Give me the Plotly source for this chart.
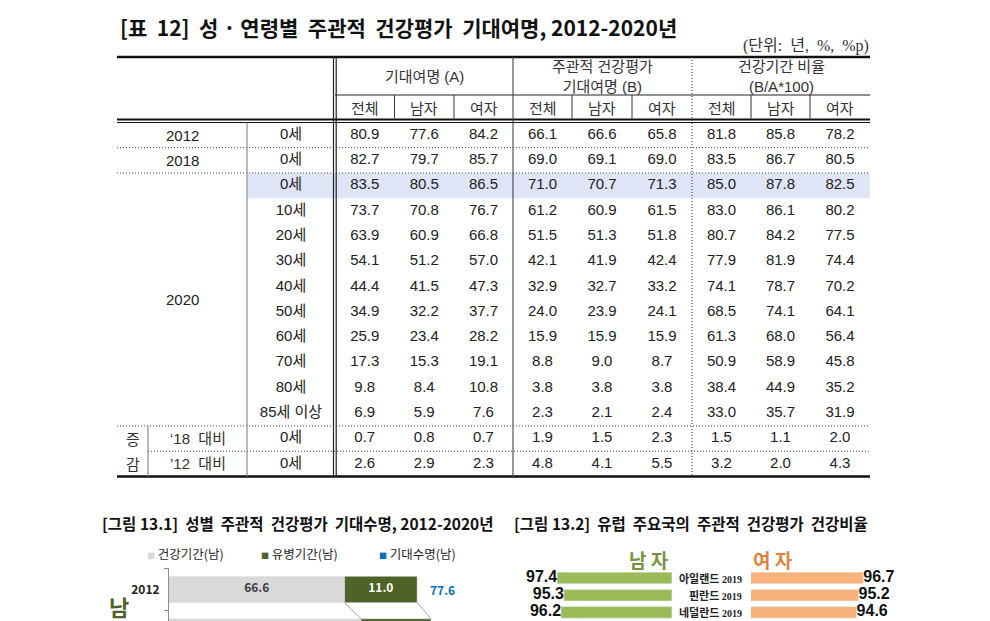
import plotly.graph_objects as go

# the page body keeps its 8px margin, so the figure is drawn 8px smaller and
# the canvas axes start at 8 to keep reference pixel positions
OFF = 8
W, H = 990 - OFF, 621 - OFF
KR = "Noto Sans CJK KR"
NUM = "Liberation Sans, Noto Sans CJK KR"

# ---- [표 12] data ----
year_labels = ["2012", "2018", "2020"]
age_labels = ["0세", "0세", "0세", "10세", "20세", "30세", "40세", "50세",
              "60세", "70세", "80세", "85세 이상", "0세", "0세"]
change_labels = ["‘18 대비", "’12 대비"]
group_labels = ["기대여명 (A)", "주관적 건강평가<br>기대여명 (B)", "건강기간 비율<br>(B/A*100)"]
sub_labels = ["전체", "남자", "여자"]

le_total = [80.9, 82.7, 83.5, 73.7, 63.9, 54.1, 44.4, 34.9, 25.9, 17.3, 9.8, 6.9, 0.7, 2.6]
le_male = [77.6, 79.7, 80.5, 70.8, 60.9, 51.2, 41.5, 32.2, 23.4, 15.3, 8.4, 5.9, 0.8, 2.9]
le_female = [84.2, 85.7, 86.5, 76.7, 66.8, 57.0, 47.3, 37.7, 28.2, 19.1, 10.8, 7.6, 0.7, 2.3]
hle_total = [66.1, 69.0, 71.0, 61.2, 51.5, 42.1, 32.9, 24.0, 15.9, 8.8, 3.8, 2.3, 1.9, 4.8]
hle_male = [66.6, 69.1, 70.7, 60.9, 51.3, 41.9, 32.7, 23.9, 15.9, 9.0, 3.8, 2.1, 1.5, 4.1]
hle_female = [65.8, 69.0, 71.3, 61.5, 51.8, 42.4, 33.2, 24.1, 15.9, 8.7, 3.8, 2.4, 2.3, 5.5]
ratio_total = [81.8, 83.5, 85.0, 83.0, 80.7, 77.9, 74.1, 68.5, 61.3, 50.9, 38.4, 33.0, 1.5, 3.2]
ratio_male = [85.8, 86.7, 87.8, 86.1, 84.2, 81.9, 78.7, 74.1, 68.0, 58.9, 44.9, 35.7, 1.1, 2.0]
ratio_female = [78.2, 80.5, 82.5, 80.2, 77.5, 74.4, 70.2, 64.1, 56.4, 45.8, 35.2, 31.9, 2.0, 4.3]

# ---- [그림 13.1] data (male) ----
f131_years = ["2012", "2018", "2020"]
f131_healthy = [66.6, 69.1, 70.7]
f131_sick = [11.0, 10.6, 9.8]
f131_total = [77.6, 79.7, 80.5]

# ---- [그림 13.2] data ----
f132_countries = ["아일랜드", "핀란드", "네덜란드"]
f132_years = ["2019", "2019", "2019"]
f132_male = [97.4, 95.3, 96.2]
f132_female = [96.7, 95.2, 94.6]

# ---- table grid (pixels) ----
col_edges = [117, 247, 335, 394.5, 454, 513, 572, 632, 692, 751, 810, 870]
row0_y, row_h = 135, 25.3
n_rows = len(age_labels)


def row_y(i):
    return row0_y + row_h * i


def fx(p):
    return (p - OFF) / W


def fy(p):
    return 1 - (p - OFF) / H


shapes = []


def seg(x0, y0, x1, y1, width=1.0, color="#333333", dash="solid"):
    shapes.append(dict(type="line", xref="x", yref="y", x0=x0, y0=y0, x1=x1, y1=y1,
                       line=dict(width=width, color=color, dash=dash)))


DOT = "1px,2px"
left, right = col_edges[0], col_edges[-1]
top_y, head_mid_y, body_top = 57, 95, 121
half = row_h / 2
bottom_y = row_y(n_rows - 1) + half

# highlight row (2020, 0세)
shapes.append(dict(type="rect", xref="x", yref="y", x0=col_edges[1] + 0.5, x1=right,
                   y0=row_y(2) - half, y1=row_y(2) + half,
                   fillcolor="#dfe4f6", line_width=0, layer="below"))

seg(left, top_y, right, top_y, 2.5, "#111111")
seg(col_edges[2], head_mid_y, right, head_mid_y, 1, "#222222")
seg(left, body_top - 1.5, right, body_top - 1.5, 2, "#111111")
seg(left, body_top + 1.5, right, body_top + 1.5, 1, "#111111")
seg(left, bottom_y, right, bottom_y, 2.5, "#111111")
for i in (0, 1, 11):
    seg(left, row_y(i) + half, right, row_y(i) + half, 1, "#444444", DOT)
seg(148, row_y(12) + half, right, row_y(12) + half, 1, "#444444", DOT)

# verticals
seg(col_edges[1], body_top + 1.5, col_edges[1], bottom_y, 1, "#777777")
seg(148, row_y(11) + half, 148, bottom_y, 1, "#777777")
seg(col_edges[2] - 1.5, top_y, col_edges[2] - 1.5, bottom_y, 1.2, "#222222")
seg(col_edges[2] + 1.2, top_y, col_edges[2] + 1.2, bottom_y, 1.2, "#222222")
seg(col_edges[5], top_y, col_edges[5], bottom_y, 1.1, "#444444")
seg(col_edges[8], top_y, col_edges[8], bottom_y, 1, "#333333", DOT)
for k in (3, 4, 6, 7, 9, 10):
    seg(col_edges[k], head_mid_y, col_edges[k], body_top - 2.5, 1, "#333333")

annotations = []


def text(x, y, s, size=14, color="#333333", family=KR, xanchor="center", ref="x", yref="y", **kw):
    annotations.append(dict(x=x, y=y, xref=ref, yref=yref, text=s, showarrow=False,
                            xanchor=xanchor, yanchor="middle",
                            font=dict(size=size, color=color, family=family), **kw))


# title + unit
text(118, 27, "<b>[표  12]  성 · 연령별  주관적  건강평가  기대여명, 2012-2020년</b>",
     size=21, color="#111111", xanchor="left")
text(871, 46, "(단위:  년,  %,  %p)", size=16, color="#333333",
     family="Liberation Serif, Noto Sans CJK KR", xanchor="right")

# headers
group_centers = [(col_edges[2] + col_edges[5]) / 2, (col_edges[5] + col_edges[8]) / 2,
                 (col_edges[8] + col_edges[11]) / 2]
for g, lab in enumerate(group_labels):
    text(group_centers[g], 76, lab, size=15, color="#333333", family=NUM)
    for s, sl in enumerate(sub_labels):
        c = 2 + g * 3 + s
        text((col_edges[c] + col_edges[c + 1]) / 2, 107, sl, size=15, color="#333333")

# row labels
col1_c = (col_edges[0] + col_edges[1]) / 2
col2_c = (col_edges[1] + col_edges[2]) / 2
text(col1_c, row_y(0), year_labels[0], 15, "#222222", NUM)
text(col1_c, row_y(1), year_labels[1], 15, "#222222", NUM)
text(col1_c, (row_y(2) + row_y(11)) / 2, year_labels[2], 15, "#222222", NUM)
text((left + 148) / 2, row_y(12), "증", 15, "#333333")
text((left + 148) / 2, row_y(13), "감", 15, "#333333")
for j, lab in enumerate(change_labels):
    text((148 + col_edges[1]) / 2, row_y(12 + j), lab.replace(" ", "  "), 15, "#333333", NUM)

fig = go.Figure()

fig.add_trace(go.Scatter(
    x=[col2_c] * n_rows, y=[row_y(i) for i in range(n_rows)], text=age_labels,
    mode="text", textfont=dict(family=NUM, size=15, color="#222222"),
    xaxis="x", yaxis="y", hoverinfo="skip", showlegend=False))

columns = [le_total, le_male, le_female, hle_total, hle_male, hle_female,
           ratio_total, ratio_male, ratio_female]
for k, vals in enumerate(columns):
    cx = (col_edges[k + 2] + col_edges[k + 3]) / 2
    fig.add_trace(go.Scatter(
        x=[cx] * len(vals), y=[row_y(i) for i in range(len(vals))],
        text=[f"{v:.1f}" for v in vals], mode="text",
        textfont=dict(family=NUM, size=15, color="#222222"),
        xaxis="x", yaxis="y", hoverinfo="skip", showlegend=False))

# ---- [그림 13.1] ----
x2_min, x2_max = 40, 100
bar_w2 = 0.62
f131_top = 568.3
f131_step = 42.4
y2_bottom = (OFF + H - f131_top) / f131_step - 0.5
f131_idx = list(range(len(f131_years)))
shown = [i for i in f131_idx if i < y2_bottom - 0.3]  # rows whose labels are in view

fig.add_trace(go.Bar(y=f131_idx, x=f131_healthy, orientation="h", width=bar_w2,
                     marker=dict(color="#d9d9d9"), xaxis="x2", yaxis="y2", showlegend=False))
fig.add_trace(go.Bar(y=f131_idx, x=f131_sick, base=f131_healthy, orientation="h", width=bar_w2,
                     marker=dict(color="#4f6228"), xaxis="x2", yaxis="y2", showlegend=False))
for series in (f131_healthy, f131_total):
    for i in range(len(series) - 1):
        fig.add_trace(go.Scatter(x=[series[i], series[i + 1]],
                                 y=[i + bar_w2 / 2, i + 1 - bar_w2 / 2],
                                 mode="lines", line=dict(color="#a6a6a6", width=1),
                                 xaxis="x2", yaxis="y2", hoverinfo="skip", showlegend=False))
fig.add_trace(go.Scatter(x=[(x2_min + f131_healthy[i]) / 2 for i in shown], y=shown,
                         text=[f"{f131_healthy[i]:.1f}" for i in shown], mode="text",
                         textfont=dict(family=KR, size=12, color="#404040", weight="bold"),
                         xaxis="x2", yaxis="y2", hoverinfo="skip", showlegend=False))
fig.add_trace(go.Scatter(x=[f131_healthy[i] + f131_sick[i] / 2 for i in shown], y=shown,
                         text=[f"{f131_sick[i]:.1f}" for i in shown], mode="text",
                         textfont=dict(family=KR, size=12, color="white", weight="bold"),
                         xaxis="x2", yaxis="y2", hoverinfo="skip", showlegend=False))
for i in shown:
    text(f131_total[i], i, f"<b>{f131_total[i]:.1f}</b>", 12, "#0070c0", KR,
         xanchor="left", ref="x2", yref="y2", xshift=11)

text(100, 523, "<b>[그림 13.1]  성별  주관적  건강평가  기대수명, 2012-2020년</b>", 15.5, "#111111",
     xanchor="left")
legend_items = [("건강기간(남)", "#d9d9d9", 145), ("유병기간(남)", "#4f6228", 259),
                ("기대수명(남)", "#0070c0", 377)]
for lab, col, px in legend_items:
    text(px, 553, f"<span style='color:{col};font-size:8px'>■</span> {lab}", 12.5, "#262626",
         xanchor="left")
text(119, 606, "<b>남</b>", 22, "#4f6228")

# ---- [그림 13.2] ----
x3_min, x3_max = 61.5, 100
bar_w3 = 0.67
f132_idx = list(range(len(f132_countries)))
fig.add_trace(go.Bar(y=f132_idx, x=f132_male, orientation="h", width=bar_w3,
                     marker=dict(color="#9bbb59"), xaxis="x3", yaxis="y3", showlegend=False))
fig.add_trace(go.Bar(y=f132_idx, x=f132_female, orientation="h", width=bar_w3,
                     marker=dict(color="#f9b27c"), xaxis="x4", yaxis="y4", showlegend=False))
fig.add_trace(go.Scatter(x=f132_male, y=f132_idx, text=[f"{v:.1f}" for v in f132_male],
                         mode="text", textposition="middle left", cliponaxis=False,
                         textfont=dict(family="Liberation Sans", size=16, color="#111111",
                                       weight="bold"),
                         xaxis="x3", yaxis="y3", hoverinfo="skip", showlegend=False))
fig.add_trace(go.Scatter(x=f132_female, y=f132_idx, text=[f"{v:.1f}" for v in f132_female],
                         mode="text", textposition="middle right", cliponaxis=False,
                         textfont=dict(family="Liberation Sans", size=16, color="#111111",
                                       weight="bold"),
                         xaxis="x4", yaxis="y4", hoverinfo="skip", showlegend=False))
for i, (c, yr) in enumerate(zip(f132_countries, f132_years)):
    text(fx(744), i, f"<b>{c} <span style='font-family:Liberation Serif;font-size:10px'>{yr}</span></b>",
         11, "#222222", KR, xanchor="right", ref="paper", yref="y3")

text(512, 523, "<b>[그림 13.2]  유럽  주요국의  주관적  건강평가  건강비율</b>", 15.5, "#111111",
     xanchor="left")
text(671, 559, "<b>남 자</b>", 19, "#77933c", xanchor="right")
text(751, 559, "<b>여 자</b>", 19, "#e2823c", xanchor="left")

hidden = dict(visible=False, fixedrange=True)
f132_top = 569.3
fig.update_layout(
    width=W, height=H, margin=dict(l=0, r=0, t=0, b=0),
    paper_bgcolor="white", plot_bgcolor="rgba(0,0,0,0)",
    shapes=shapes, annotations=annotations, showlegend=False, barmode="overlay",
    xaxis=dict(domain=[0, 1], range=[OFF, OFF + W], **hidden),
    yaxis=dict(domain=[0, 1], range=[OFF + H, OFF], **hidden),
    xaxis2=dict(domain=[fx(169), fx(565)], range=[x2_min, x2_max], anchor="y2",
                showgrid=False, zeroline=False, showticklabels=False, fixedrange=True),
    yaxis2=dict(domain=[0, fy(f131_top)], range=[y2_bottom, -0.5],
                anchor="x2", showgrid=False, zeroline=False, showline=True,
                linecolor="#8c8c8c", linewidth=1,
                tickvals=shown, ticktext=[f131_years[i] for i in shown], ticks="",
                ticklabelstandoff=6,
                tickfont=dict(family=KR, size=12, color="#222222", weight="bold"),
                minor=dict(tickvals=[i - 0.5 for i in range(len(f131_idx) + 1)],
                           ticks="outside", ticklen=4, tickcolor="#8c8c8c", showgrid=False),
                fixedrange=True),
    xaxis3=dict(domain=[fx(548.9), fx(671.7)], range=[x3_max, x3_min], anchor="y3", **hidden),
    yaxis3=dict(domain=[0, fy(f132_top)], range=[2.5, -0.5], anchor="x3", **hidden),
    xaxis4=dict(domain=[fx(751), fx(873.8)], range=[x3_min, x3_max], anchor="y4", **hidden),
    yaxis4=dict(domain=[0, fy(f132_top)], range=[2.5, -0.5], anchor="x4", **hidden),
)

fig.write_html("out.html")
